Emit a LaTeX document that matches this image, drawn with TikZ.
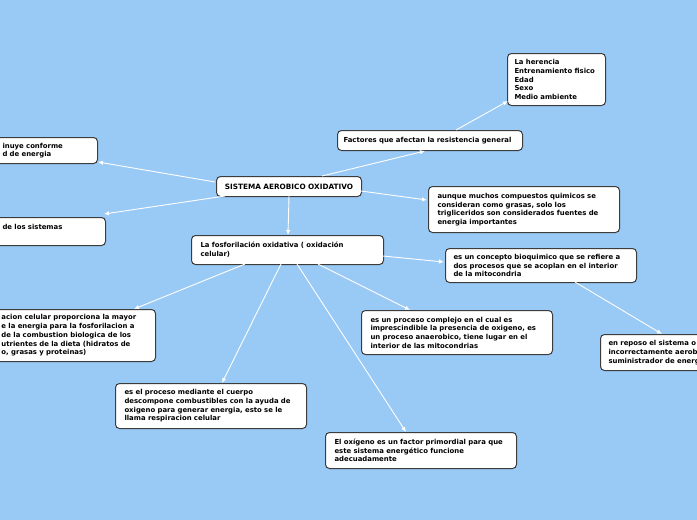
\documentclass[tikz,border=0pt]{standalone}
\usepackage{fontspec}
\setmainfont{DejaVu Sans}
\usetikzlibrary{arrows.meta,calc}
\definecolor{bgblue}{RGB}{153,201,245}
\definecolor{boxborder}{RGB}{60,60,60}
\newcommand\boxfont{\fontsize{6.9}{8.7}\selectfont\bfseries}
\newcommand\titlefont{\fontsize{7.3}{8.7}\selectfont\bfseries}
\tikzset{
  bx/.style={draw=boxborder, line width=1pt, fill=white, rounded corners=4pt,
    anchor=north west, align=left, inner xsep=9pt, inner ysep=2pt, font=\boxfont},
  conn/.style={draw=white, line width=0.9pt, -{Latex[length=5pt,width=4.5pt]}}
}
\begin{document}
\begin{tikzpicture}[x=1pt,y=-1pt]
\fill[bgblue] (0,0) rectangle (697,520);
\useasboundingbox (0,0) rectangle (697,520);
\clip (0,0) rectangle (697,520);

\node[bx, inner xsep=8pt, text width=87pt, minimum height=26pt] (b1) at (-6,137) {inuye conforme\\d de energia};
\node[bx, inner xsep=8pt, text width=95pt, minimum height=28pt] (b2) at (-6,217) {de los sistemas\\\mbox{}};
\node[bx, align=center, font=\titlefont, inner xsep=2pt, text width=141pt, minimum height=20pt] (main) at (216,176) {SISTEMA AEROBICO OXIDATIVO};
\node[bx, inner xsep=6pt, text width=173pt, minimum height=20pt] (fact) at (337,130) {Factores que afectan la resistencia general};
\node[bx, inner xsep=7pt, text width=84pt, minimum height=52pt] (her) at (507,53) {La herencia\\Entrenamiento fisico\\Edad\\Sexo\\Medio ambiente};
\node[bx, text width=173pt, minimum height=46pt] (aunq) at (428,186) {aunque muchos compuestos quimicos se\\consideran como grasas, solo los\\trigliceridos son considerados fuentes de\\energia importantes};
\node[bx, text width=174pt, minimum height=29pt] (fosf) at (191,235) {La fosforilación oxidativa ( oxidación\\celular)};
\node[bx, inner xsep=8pt, text width=175pt, minimum height=34pt] (conc) at (445,248) {es un concepto bioquimico que se refiere a\\dos procesos que se acoplan en el interior\\de la mitocondria};
\node[bx, inner xsep=7pt, text width=147pt, minimum height=52pt] (b9) at (-6,309) {acion celular proporciona la mayor\\e la energia para la fosforilacion a\\de la combustion biologica de los\\utrientes de la dieta (hidratos de\\o, grasas y proteinas)};
\node[bx, text width=173pt, minimum height=44pt] (compl) at (361,310) {es un proceso complejo en el cual es\\imprescindible la presencia de oxigeno, es\\un proceso anaerobico, tiene lugar en el\\interior de las mitocondrias};
\node[bx, inner xsep=8pt, text width=104pt, minimum height=36pt] (repos) at (600,334) {en reposo el sistema o\\incorrectamente aerob\\suministrador de energ};
\node[bx, text width=173pt, minimum height=45pt] (proc) at (115,383) {es el proceso mediante el cuerpo\\descompone combustibles con la ayuda de\\oxigeno para generar energia, esto se le\\llama respiracion celular};
\node[bx, text width=173pt, minimum height=36pt] (oxi) at (325,432) {El oxígeno es un factor primordial para que\\este sistema energético funcione\\adecuadamente};

\draw[conn] ($(main.north west)+(-1,6)$) -- ($(b1.north west)+(104,25)$);
\draw[conn] ($(main.north west)+(9,20)$) -- ($(b2.north west)+(110,-3)$);
\draw[conn] ($(main.north west)+(106,0)$) -- ($(fact.north west)+(88,21)$);
\draw[conn] ($(fact.north west)+(119,0)$) -- ($(her.north west)+(1,48)$);
\draw[conn] ($(main.north west)+(145,15)$) -- ($(aunq.north west)+(-1,14)$);
\draw[conn] ($(main.north west)+(73,20)$) -- ($(fosf.north west)+(97,0)$);
\draw[conn] ($(fosf.north west)+(192,21)$) -- ($(conc.north west)+(-1,14)$);
\draw[conn] ($(conc.north west)+(130,34)$) -- ($(repos.north west)+(62,0)$);
\draw[conn] ($(fosf.north west)+(54,29)$) -- ($(b9.north west)+(140,0)$);
\draw[conn] ($(fosf.north west)+(90,29)$) -- ($(proc.north west)+(107,0)$);
\draw[conn] ($(fosf.north west)+(106,29)$) -- ($(oxi.north west)+(81,0)$);
\draw[conn] ($(fosf.north west)+(127,29)$) -- ($(compl.north west)+(49,0)$);
\end{tikzpicture}
\end{document}
